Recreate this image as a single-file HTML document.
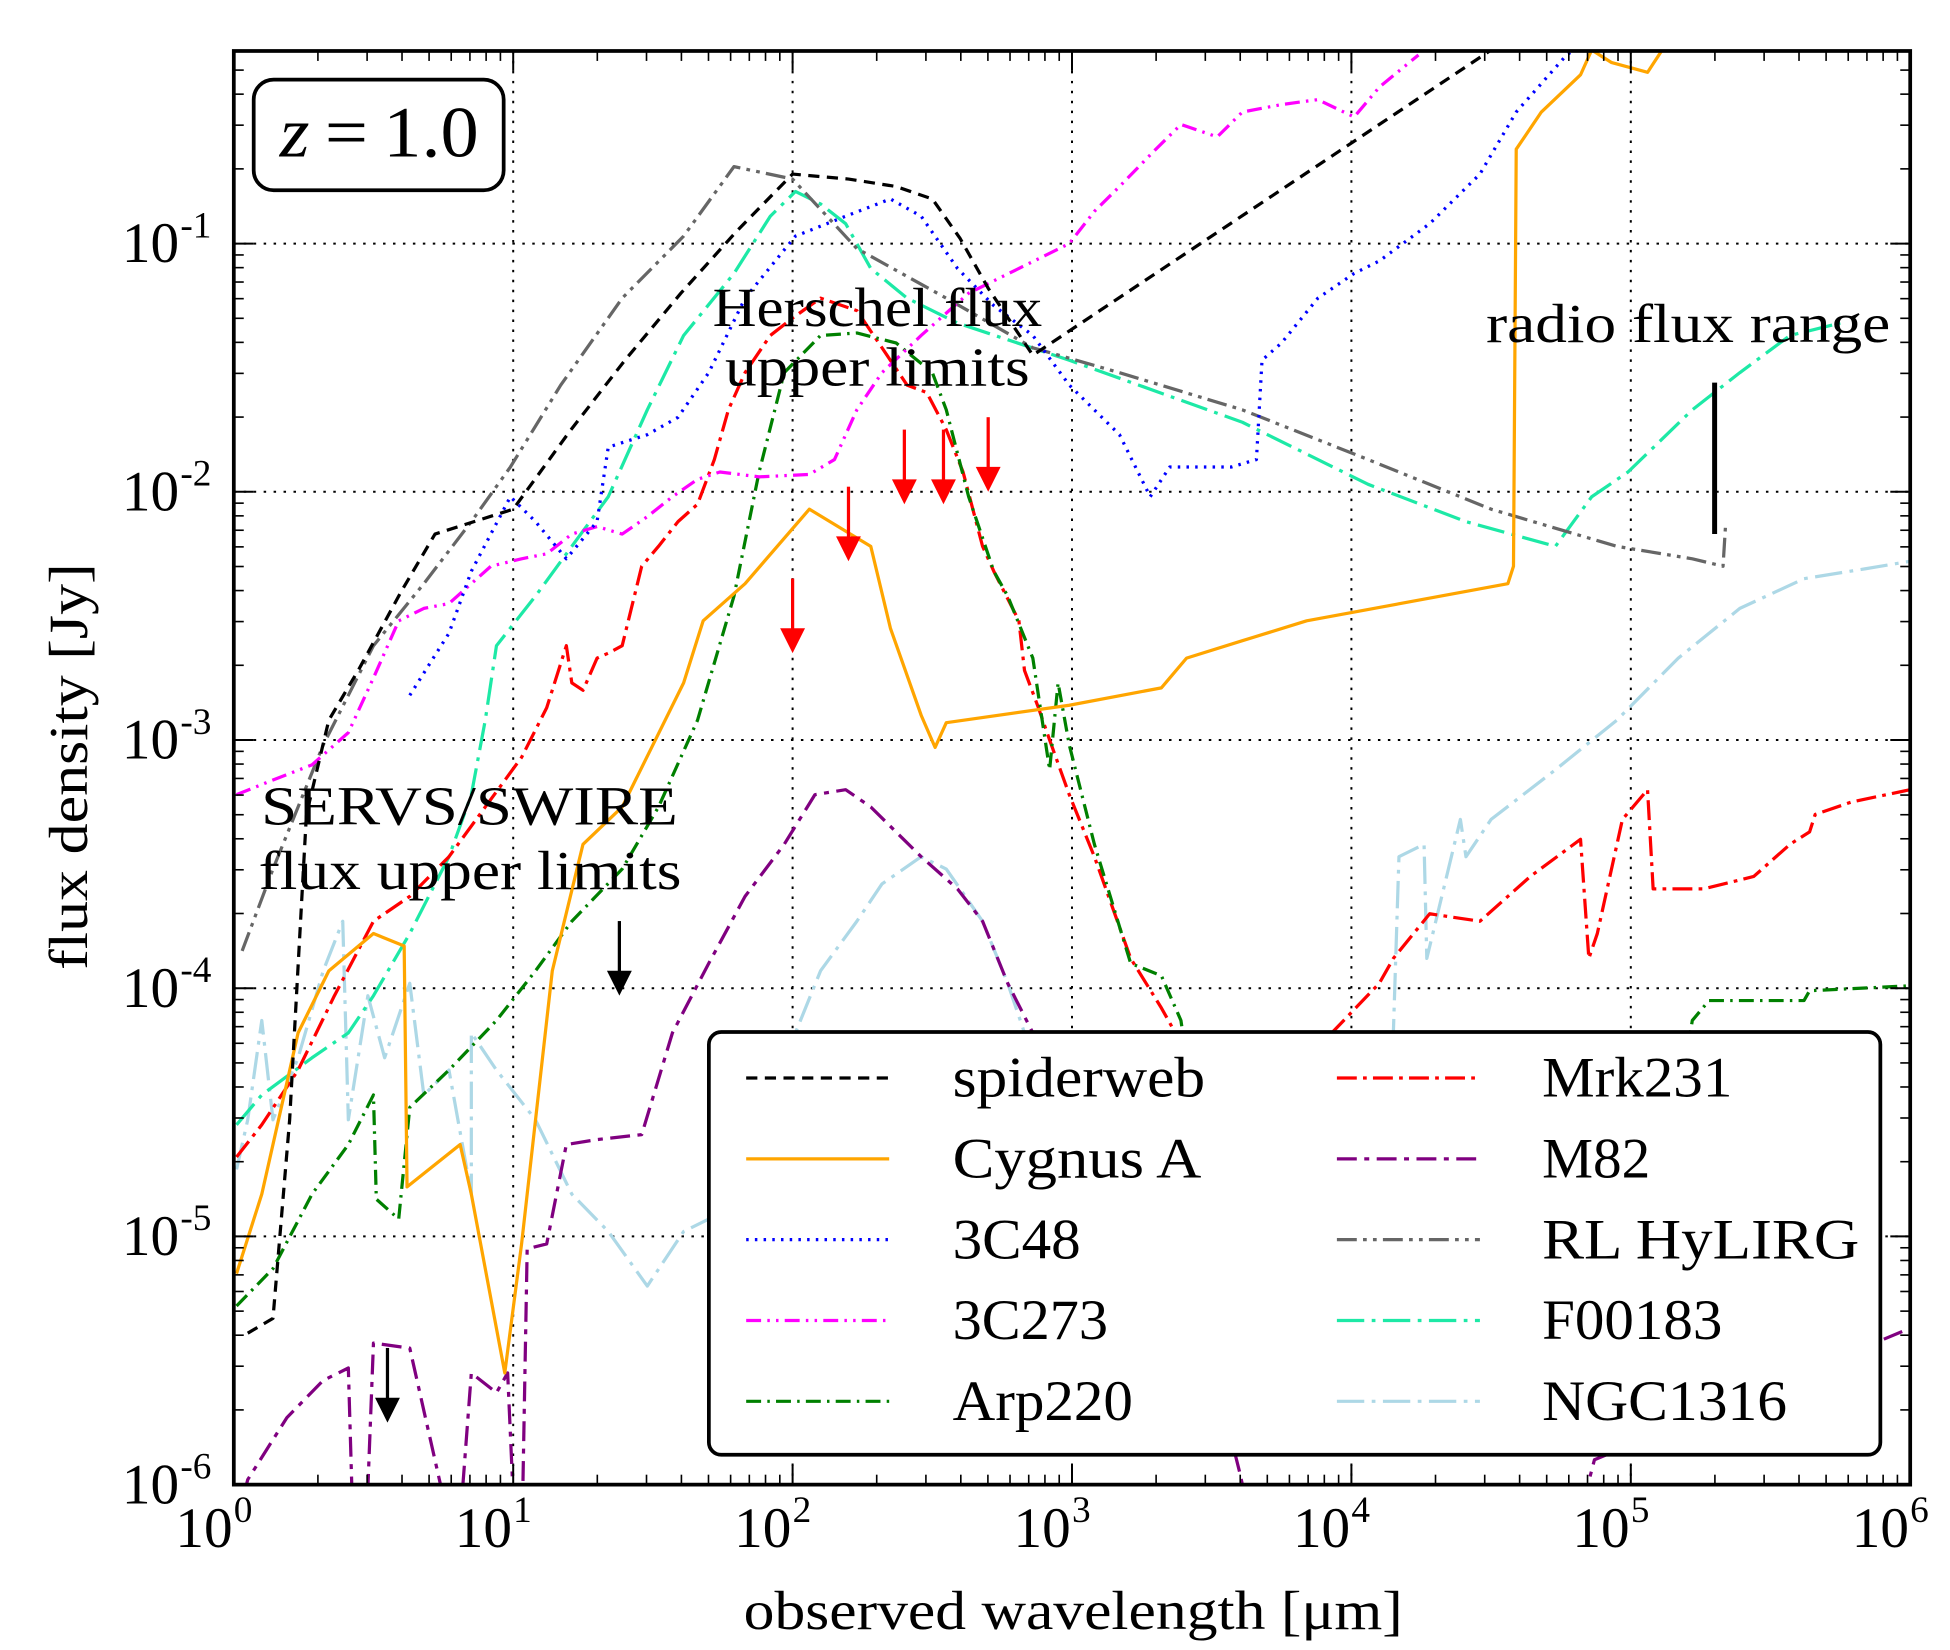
<!DOCTYPE html>
<html><head><meta charset="utf-8"><style>
html,body{margin:0;padding:0;background:#fff}
svg{display:block}
text{font-family:"Liberation Serif",serif;fill:#000}
</style></head><body>
<svg id="chart" width="1950" height="1650" viewBox="0 0 1568 1327" preserveAspectRatio="none" xmlns="http://www.w3.org/2000/svg">
<defs><clipPath id="plotclip"><rect x="188" y="41" width="1348" height="1153"/></clipPath></defs>
<g id="grid"></g>
<g id="series" clip-path="url(#plotclip)"></g>
<g id="marks"></g>
<g id="axes"></g>
<g id="legend"></g>
</svg>
<script>
// Data in log10 units: wavelength (um) and flux density (Jy)
const xTickExps = [0,1,2,3,4,5,6];
const yTickExps = [-6,-5,-4,-3,-2,-1];
const spiderLx = [0.05,0.14,0.2,0.26,0.34,0.45,0.6,0.72,1.0,1.2,1.4,1.6,1.8,2.0,2.2,2.37,2.5,2.6,2.7,2.86,4.5,5.0];
const spiderLy = [-5.39,-5.33,-4.53,-3.3,-2.92,-2.71,-2.4,-2.17,-2.07,-1.76,-1.47,-1.2,-0.95,-0.72,-0.74,-0.77,-0.82,-0.98,-1.18,-1.45,-0.22,0.1];
const cygLx = [0.01,0.10,0.23,0.34,0.50,0.61,0.62,0.81,0.85,0.97,1.03,1.14,1.25,1.39,1.50,1.61,1.68,1.83,2.06,2.28,2.35,2.46,2.51,2.55,2.99,3.32,3.41,3.61,3.84,4.56,4.58,4.59,4.68,4.82,4.86,4.93,5.06,5.13];
const cygLy = [-5.15,-4.83,-4.18,-3.93,-3.78,-3.83,-4.80,-4.63,-4.83,-5.55,-5.03,-3.93,-3.42,-3.27,-3.02,-2.77,-2.52,-2.37,-2.07,-2.22,-2.55,-2.90,-3.03,-2.93,-2.86,-2.79,-2.67,-2.60,-2.52,-2.37,-2.30,-0.62,-0.47,-0.32,-0.22,-0.27,-0.31,-0.19];
const c48Lx = [0.63,0.77,0.85,0.99,1.08,1.19,1.30,1.34,1.48,1.59,1.70,1.83,2.01,2.19,2.35,2.46,2.59,2.72,2.86,2.99,3.17,3.28,3.35,3.57,3.66,3.68,3.75,3.88,4.01,4.10,4.28,4.46,4.59,4.77,4.84];
const c48Ly = [-2.82,-2.57,-2.32,-2.02,-2.12,-2.27,-2.12,-1.82,-1.77,-1.70,-1.52,-1.22,-0.97,-0.89,-0.82,-0.89,-1.10,-1.25,-1.37,-1.57,-1.77,-2.02,-1.90,-1.90,-1.87,-1.47,-1.40,-1.22,-1.12,-1.07,-0.92,-0.72,-0.47,-0.24,-0.19];
const c273Lx = [0.01,0.12,0.28,0.41,0.50,0.59,0.68,0.77,0.85,0.92,1.03,1.12,1.21,1.30,1.39,1.48,1.57,1.66,1.74,1.88,2.06,2.15,2.23,2.32,2.46,2.63,2.81,2.99,3.08,3.17,3.30,3.39,3.52,3.61,3.75,3.88,4.01,4.10,4.24];
const c273Ly = [-3.22,-3.17,-3.10,-2.97,-2.75,-2.52,-2.47,-2.45,-2.37,-2.30,-2.27,-2.25,-2.17,-2.14,-2.17,-2.10,-2.02,-1.95,-1.92,-1.94,-1.93,-1.87,-1.67,-1.52,-1.37,-1.20,-1.10,-1.0,-0.87,-0.77,-0.62,-0.52,-0.57,-0.47,-0.44,-0.42,-0.49,-0.37,-0.24];
const arpLx = [0.01,0.14,0.28,0.41,0.50,0.51,0.59,0.63,0.77,0.94,1.08,1.21,1.39,1.52,1.66,1.79,1.88,1.97,2.10,2.23,2.37,2.50,2.55,2.63,2.72,2.77,2.86,2.92,2.95,2.99,3.08,3.21,3.32,3.39,3.45,5.15,5.22,5.28,5.62,5.64,6.0];
const arpLy = [-5.28,-5.13,-4.83,-4.63,-4.43,-4.85,-4.93,-4.48,-4.33,-4.13,-3.93,-3.73,-3.52,-3.27,-2.92,-2.42,-1.92,-1.52,-1.37,-1.36,-1.40,-1.52,-1.67,-2.02,-2.32,-2.42,-2.67,-3.12,-2.77,-3.02,-3.42,-3.90,-3.95,-4.13,-4.6,-4.6,-4.13,-4.05,-4.05,-4.01,-3.99];
const mrkLx = [0.01,0.10,0.23,0.36,0.50,0.63,0.77,0.90,1.03,1.12,1.19,1.21,1.25,1.30,1.34,1.39,1.46,1.52,1.59,1.66,1.72,1.77,1.83,1.92,2.0,2.10,2.23,2.32,2.41,2.48,2.55,2.61,2.68,2.72,2.81,2.83,2.88,2.92,2.99,3.08,3.21,3.32,3.37,3.45,3.85,3.93,4.10,4.15,4.28,4.46,4.64,4.82,4.85,4.88,4.97,5.06,5.08,5.26,5.44,5.57,5.64,5.66,5.79,6.0];
const mrkLy = [-4.68,-4.55,-4.33,-4.03,-3.73,-3.63,-3.47,-3.27,-3.07,-2.87,-2.62,-2.77,-2.80,-2.67,-2.65,-2.62,-2.30,-2.22,-2.12,-2.05,-1.87,-1.67,-1.52,-1.37,-1.30,-1.22,-1.27,-1.42,-1.57,-1.60,-1.75,-1.92,-2.22,-2.32,-2.52,-2.72,-2.87,-3.0,-3.22,-3.47,-3.88,-4.08,-4.18,-4.6,-4.6,-4.18,-3.98,-3.88,-3.70,-3.73,-3.55,-3.40,-3.88,-3.78,-3.32,-3.20,-3.60,-3.60,-3.55,-3.42,-3.37,-3.30,-3.25,-3.20];
const m82Lx = [0.0,0.05,0.19,0.32,0.41,0.43,0.47,0.50,0.63,0.80,0.85,0.94,0.98,1.01,1.03,1.05,1.12,1.19,1.30,1.46,1.57,1.70,1.83,1.97,2.08,2.19,2.28,2.46,2.59,2.68,2.77,2.86,2.95,3.5,3.60,3.65,4.80,4.87,6.0];
const m82Ly = [-6.2,-5.98,-5.73,-5.58,-5.53,-6.3,-6.3,-5.43,-5.45,-6.3,-5.55,-5.63,-5.55,-6.3,-6.3,-5.05,-5.03,-4.63,-4.61,-4.59,-4.18,-3.90,-3.63,-3.42,-3.22,-3.20,-3.27,-3.47,-3.60,-3.73,-3.98,-4.18,-4.6,-5.5,-5.95,-6.2,-6.2,-5.9,-5.37];
const rlLx = [0.03,0.14,0.32,0.50,0.68,0.85,0.99,1.17,1.39,1.61,1.79,2.0,2.23,2.55,2.86,3.17,3.61,4.06,4.50,4.95,5.22,5.33,5.34];
const rlLy = [-3.85,-3.52,-3.02,-2.62,-2.37,-2.12,-1.90,-1.57,-1.22,-0.97,-0.69,-0.74,-1.02,-1.22,-1.42,-1.52,-1.67,-1.87,-2.07,-2.22,-2.27,-2.30,-2.12];
const f00Lx = [0.01,0.10,0.28,0.41,0.50,0.63,0.77,0.85,0.90,0.94,1.08,1.21,1.34,1.48,1.61,1.79,1.92,2.01,2.10,2.19,2.28,2.41,2.59,2.99,3.61,4.06,4.41,4.73,4.86,4.99,5.22,5.39,5.57,5.75];
const f00Ly = [-4.55,-4.43,-4.28,-4.18,-4.03,-3.78,-3.47,-3.22,-2.92,-2.62,-2.42,-2.22,-2.02,-1.67,-1.37,-1.12,-0.89,-0.79,-0.84,-0.92,-1.10,-1.22,-1.32,-1.47,-1.72,-1.97,-2.12,-2.22,-2.02,-1.92,-1.67,-1.52,-1.37,-1.32];
const ngcLx = [0.01,0.05,0.10,0.14,0.23,0.32,0.39,0.41,0.48,0.54,0.63,0.68,0.77,0.85,0.85,0.94,1.08,1.21,1.34,1.48,1.61,1.70,1.85,2.01,2.10,2.23,2.32,2.46,2.55,2.68,2.77,2.83,2.9,4.1,4.15,4.17,4.26,4.27,4.39,4.41,4.50,4.73,4.95,5.17,5.39,5.62,5.84,6.0];
const ngcLy = [-4.73,-4.53,-4.13,-4.53,-4.28,-3.93,-3.73,-4.53,-4.03,-4.28,-3.98,-4.43,-4.33,-4.83,-4.18,-4.33,-4.53,-4.83,-4.98,-5.20,-4.98,-4.93,-5.2,-4.18,-3.93,-3.73,-3.58,-3.47,-3.52,-3.73,-3.98,-4.18,-5.0,-5.0,-4.18,-3.47,-3.42,-3.88,-3.32,-3.47,-3.32,-3.12,-2.92,-2.67,-2.47,-2.35,-2.31,-2.28];
const seriesNames = ["spiderweb","Cygnus A","3C48","3C273","Arp220","Mrk231","M82","RL HyLIRG","F00183","NGC1316"];
// upper limit arrows (log wavelength, log flux at arrow tip)
const herschelLx = [2.0,2.2,2.4,2.54,2.7];
const herschelLy = [-2.65,-2.28,-2.05,-2.05,-2.0];
const servsLx = [1.38,0.55];
const servsLy = [-4.03,-5.75];
const radioLx = [5.3];
const radioLyLow = [-2.17];
const radioLyHigh = [-1.56];

const styles = [
 {c:"#000000",d:"9,6",w:2.6},
 {c:"#FFA500",d:"",w:2.6},
 {c:"#0000FF",d:"2,5",w:2.6},
 {c:"#FF00FF",d:"12,5,2,5,2,5",w:2.6},
 {c:"#008000",d:"12,5,2,5",w:2.6},
 {c:"#FF0000",d:"16,5,3,5",w:2.6},
 {c:"#800080",d:"16,6,4,6",w:2.6},
 {c:"#666666",d:"16,5,3,5,3,5",w:2.6},
 {c:"#1DE9A6",d:"22,6,3,6",w:2.6},
 {c:"#ADD8E6",d:"22,6,3,6",w:2.6}
];
const legendTextLen = [203,200,103,125,145,153,87,255,145,197];
const seriesData = [[spiderLx,spiderLy],[cygLx,cygLy],[c48Lx,c48Ly],[c273Lx,c273Ly],[arpLx,arpLy],[mrkLx,mrkLy],[m82Lx,m82Ly],[rlLx,rlLy],[f00Lx,f00Ly],[ngcLx,ngcLy]];
const drawOrder = [9,8,7,6,5,4,3,2,1,0];

const NS="http://www.w3.org/2000/svg";
const L=188,R=1536,T=41,B=1194;
const XMIN=0,XMAX=6,YMIN=-6,YMAX=-0.224;
function X(v){return L+(v-XMIN)/(XMAX-XMIN)*(R-L);}
function Y(v){return B-(v-YMIN)/(YMAX-YMIN)*(B-T);}
function mk(tag,attrs,parent){const e=document.createElementNS(NS,tag);for(const k in attrs)e.setAttribute(k,attrs[k]);parent.appendChild(e);return e;}
const grid=document.getElementById('grid'),ser=document.getElementById('series'),marks=document.getElementById('marks'),axes=document.getElementById('axes'),leg=document.getElementById('legend');

// grid
xTickExps.forEach(e=>{if(e>XMIN&&e<XMAX){const g=mk('line',{x1:X(e),x2:X(e),y1:T,y2:B,stroke:'#000','stroke-width':1.6,'stroke-dasharray':'2,6'},grid);

}});
yTickExps.forEach(e=>{if(e>YMIN&&e<YMAX){const g=mk('line',{x1:L,x2:R,y1:Y(e),y2:Y(e),stroke:'#000','stroke-width':1.6,'stroke-dasharray':'2,6'},grid);

}});

// series
drawOrder.forEach(i=>{const [lx,ly]=seriesData[i];const s=styles[i];
const pts=lx.map((v,k)=>X(v).toFixed(1)+','+Y(ly[k]).toFixed(1)).join(' ');
const p=mk('polyline',{points:pts,fill:'none',stroke:s.c,'stroke-width':s.w,'stroke-dasharray':s.d,'stroke-linejoin':'round'},ser);

});

// arrows
function arrow(lx,ly,color,name){const x=X(lx),y=Y(ly);const g=mk('g',{},marks);


mk('line',{x1:x,x2:x,y1:y-60,y2:y-18,stroke:color,'stroke-width':2.6},g);
mk('polygon',{points:`${x-10},${y-20} ${x+10},${y-20} ${x},${y}`,fill:color},g);}
herschelLx.forEach((v,i)=>arrow(v,herschelLy[i],'#FF0000','herschel-limit-arrow'));
servsLx.forEach((v,i)=>arrow(v,servsLy[i],'#000000','servs-limit-arrow'));
radioLx.forEach((v,i)=>{const r=mk('line',{x1:X(v),x2:X(v),y1:Y(radioLyHigh[i]),y2:Y(radioLyLow[i]),stroke:'#000','stroke-width':4},marks);

});

// axes frame & ticks
const fr=mk('rect',{x:L,y:T,width:R-L,height:B-T,fill:'none',stroke:'#000','stroke-width':3},axes);


for(let e=XMIN;e<=XMAX;e++){
 mk('line',{x1:X(e),x2:X(e),y1:B,y2:B-16,stroke:'#000','stroke-width':1.6},axes);
 mk('line',{x1:X(e),x2:X(e),y1:T,y2:T+16,stroke:'#000','stroke-width':1.6},axes);
 if(e<XMAX)for(let m=2;m<10;m++){const xx=X(e+Math.log10(m));
 mk('line',{x1:xx,x2:xx,y1:B,y2:B-8,stroke:'#000','stroke-width':1.3},axes);
 mk('line',{x1:xx,x2:xx,y1:T,y2:T+8,stroke:'#000','stroke-width':1.3},axes);}
}
for(let e=YMIN;e<=0;e++){
 if(e<=-1){mk('line',{x1:L,x2:L+16,y1:Y(e),y2:Y(e),stroke:'#000','stroke-width':1.6},axes);
 mk('line',{x1:R,x2:R-16,y1:Y(e),y2:Y(e),stroke:'#000','stroke-width':1.6},axes);}
 for(let m=2;m<10;m++){const v=e+Math.log10(m);if(v>YMAX)continue;const yy=Y(v);
 mk('line',{x1:L,x2:L+8,y1:yy,y2:yy,stroke:'#000','stroke-width':1.3},axes);
 mk('line',{x1:R,x2:R-8,y1:yy,y2:yy,stroke:'#000','stroke-width':1.3},axes);}
}
xTickExps.forEach(e=>{const t=mk('text',{x:X(e)-16,y:1244,'font-size':46,'text-anchor':'middle'},axes);


t.textContent='10';const s=mk('tspan',{'font-size':30,dy:-20,dx:1},t);s.textContent=String(e);});
yTickExps.forEach(e=>{const t=mk('text',{x:170,y:Y(e)+15,'font-size':46,'text-anchor':'end'},axes);


t.textContent='10';const s=mk('tspan',{'font-size':30,dy:-20,dx:1},t);s.textContent=String(e);});
const xl=mk('text',{x:598,y:1310,'font-size':44,textLength:530,lengthAdjust:'spacingAndGlyphs'},axes);xl.textContent='observed wavelength [μm]';


const yl=mk('text',{x:-780,y:0,'font-size':44,textLength:327,lengthAdjust:'spacingAndGlyphs',transform:'translate(70,0) rotate(-90)'},axes);yl.textContent='flux density [Jy]';



// annotations
function txt(x,y,s,size,len,name){const t=mk('text',{x:x,y:y,'font-size':size,textLength:len,lengthAdjust:'spacingAndGlyphs'},marks);t.textContent=s;

return t;}
txt(573,262,'Herschel flux',44,265,'herschel-label');
txt(583,310,'upper limits',44,245,'herschel-label-2');
txt(1195,275,'radio flux range',44,325,'radio-label');
txt(210,663,'SERVS/SWIRE',44,335,'servs-label');
txt(208,715,'flux upper limits',44,340,'servs-label-2');
const zb=mk('rect',{x:204,y:64,width:201,height:89,rx:16,fill:'#fff',stroke:'#000','stroke-width':3},marks);


const zt=txt(225,126,'',58,160,'redshift-label');
const zi=mk('tspan',{'font-style':'italic'},zt);zi.textContent='z';
const zr=mk('tspan',{},zt);zr.textContent='\u2009=\u20091.0';

// legend
const lb=mk('rect',{x:570,y:830,width:942,height:340,rx:10,fill:'#fff',stroke:'#000','stroke-width':3},leg);


const rowsY=[867,932,997,1062,1127];
seriesNames.forEach((n,i)=>{const col=Math.floor(i/5),row=i%5;const y=rowsY[row];
const x0=col?1075:600,tx=col?1240:766;const s=styles[i];
const g=mk('g',{},leg);


mk('line',{x1:x0,x2:x0+115,y1:y,y2:y,stroke:s.c,'stroke-width':s.w,'stroke-dasharray':s.d},g);
const t=mk('text',{x:tx,y:y+15,'font-size':46,textLength:legendTextLen[i],lengthAdjust:'spacingAndGlyphs'},g);t.textContent=n;});
</script>
</body></html>
